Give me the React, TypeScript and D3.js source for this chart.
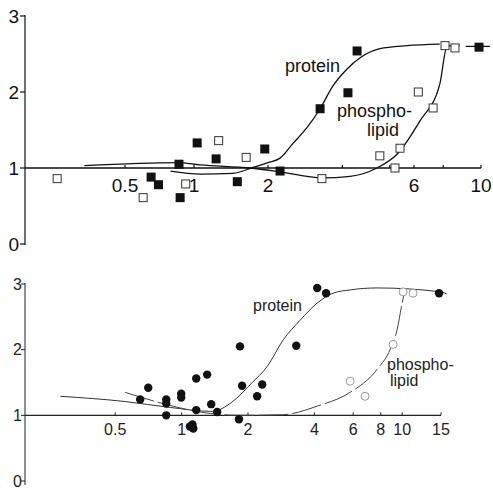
import React from 'react';
import * as d3 from 'd3';

// ---------- data ----------
const yTicks = [0, 1, 2, 3];
const topTickValues = [0.5, 1, 2, 6, 10];
const topTickLabels = ['0.5', '1', '2', '6', '10'];
const topMinorTicks = [3.5, 5, 7.5];
const bottomTickValues = [0.5, 1, 2, 4, 6, 8, 10, 15];
const bottomTickLabels = ['0.5', '1', '2', '4', '6', '8', '10', '15'];

// top panel: protein (filled squares)
const topProteinX = [0.86, 1.03, 1.23, 0.65, 0.70, 0.87, 1.50, 1.94, 2.19, 2.96, 3.65, 3.91, 9.85];
const topProteinY = [1.05, 1.33, 1.12, 0.88, 0.78, 0.61, 0.82, 1.25, 0.96, 1.78, 1.99, 2.54, 2.59];
// top panel: phospholipid (open squares)
const topLipidX = [0.25, 0.60, 0.92, 1.26, 1.63, 3.0, 4.64, 5.2, 5.4, 6.2, 6.94, 7.6, 8.2];
const topLipidY = [0.86, 0.61, 0.79, 1.36, 1.14, 0.86, 1.16, 1.0, 1.26, 2.0, 1.79, 2.61, 2.58];
// top panel fitted curves
const topProteinCurveX = [0.79, 1.06, 1.44, 1.75, 2.0, 2.19, 2.41, 2.68, 2.96, 3.26, 3.62, 4.0, 4.64, 5.69, 7.3];
const topProteinCurveY = [0.96, 0.92, 0.93, 1.01, 1.07, 1.13, 1.32, 1.53, 1.78, 2.08, 2.30, 2.45, 2.57, 2.61, 2.63];
const topProteinTailX = [8.9, 10.7];
const topProteinTailY = [2.6, 2.6];
const topLipidCurveX = [0.33, 0.85, 1.06, 1.69, 2.19, 3.0, 3.71, 4.54, 5.28, 6.28, 7.3, 7.72, 8.5];
const topLipidCurveY = [1.03, 1.07, 1.04, 1.0, 0.95, 0.87, 0.89, 1.0, 1.18, 1.62, 2.1, 2.6, 2.62];

// bottom panel: protein (filled circles)
const bottomProteinX = [0.649, 0.706, 0.852, 0.852, 0.852, 0.996, 0.996, 1.165, 1.306, 1.165, 1.362, 1.45, 1.84, 1.88, 1.82, 1.09, 1.13, 1.12, 2.32, 2.2, 3.31, 4.12, 4.52, 14.7];
const bottomProteinY = [1.24, 1.42, 1.24, 1.18, 1.0, 1.33, 1.27, 1.56, 1.62, 1.08, 1.17, 1.05, 2.05, 1.45, 0.94, 0.83, 0.80, 0.86, 1.47, 1.29, 2.06, 2.94, 2.86, 2.86];
// bottom panel: phospholipid (open circles, faint)
const bottomLipidX = [10.1, 11.2, 9.1, 5.81, 6.79];
const bottomLipidY = [2.88, 2.86, 2.08, 1.52, 1.29];
// bottom panel fitted curves
const bottomProteinCurveX = [0.282, 0.555, 0.888, 1.376, 1.69, 2.09, 2.44, 2.89, 3.45, 4.12, 4.86, 5.81, 7.7, 15, 15.9];
const bottomProteinCurveY = [1.29, 1.21, 1.12, 1.06, 1.2, 1.5, 1.74, 2.15, 2.45, 2.71, 2.86, 2.91, 2.94, 2.88, 2.85];
const bottomLipidCurveX = [0.555, 0.843, 1.214, 1.84, 2.89, 4.12, 5.81, 7.7, 8.81, 9.48, 10.0, 10.3];
const bottomLipidCurveY = [1.35, 1.17, 1.05, 1.0, 1.01, 1.14, 1.35, 1.70, 2.0, 2.3, 2.71, 2.91];

// ---------- scales ----------
const xTop = d3.scaleLog().domain([0.18, 0.5, 1, 2, 6, 10]).range([25, 125, 194, 268, 414, 481]);
const yTop = d3.scaleLinear().domain([0, 3]).range([244, 16]);
const xBot = d3.scaleLog().domain([0.195, 15]).range([25, 441]);
const yBot = d3.scaleLinear().domain([0, 3]).range([481, 284]);

const FONT = '"Liberation Sans", Arial, sans-serif';
const INK = '#111';

function pathOf(xs: number[], ys: number[], sx: any, sy: any) {
  const pts: [number, number][] = xs.map((x, i) => [sx(x), sy(ys[i])]);
  return d3.line().curve(d3.curveMonotoneX)(pts) || '';
}

export default function App() {
  const topAxisX0 = xTop(0.18);
  const topAxisX1 = xTop(10);
  const botAxisX0 = xBot(0.195);
  const botAxisX1 = xBot(15);

  return (
    <svg width={493} height={494} style={{ position: 'absolute', left: 0, top: 0, background: '#fff' }}
      fontFamily={FONT}>
      <rect x={0} y={0} width={493} height={494} fill="#fff" />

      {/* ===== TOP PANEL ===== */}
      <g>
        <line x1={topAxisX0} x2={topAxisX0} y1={yTop(3) - 1} y2={yTop(0) + 1} stroke={INK} strokeWidth={1.2} />
        {yTicks.map(t => (
          <g key={'yt' + t}>
            <line x1={topAxisX0 - 5} x2={topAxisX0} y1={yTop(t)} y2={yTop(t)} stroke={INK} strokeWidth={1.2} />
            <text x={19} y={yTop(t)} dy="0.36em" textAnchor="end" fontSize={19} fill={INK}>{t}</text>
          </g>
        ))}
        <line x1={topAxisX0} x2={topAxisX1} y1={yTop(1)} y2={yTop(1)} stroke={INK} strokeWidth={1.3} />
        {topTickValues.map((v, i) => (
          <g key={'xt' + v}>
            <line x1={xTop(v)} x2={xTop(v)} y1={yTop(1) - 3} y2={yTop(1)} stroke={INK} strokeWidth={1.2} />
            <text x={xTop(v)} y={192} textAnchor="middle" fontSize={19} fill={INK}>{topTickLabels[i]}</text>
          </g>
        ))}
        {topMinorTicks.map(v => (
          <line key={'xm' + v} x1={xTop(v)} x2={xTop(v)} y1={yTop(1) - 3} y2={yTop(1)} stroke={INK} strokeWidth={1.2} />
        ))}

        <path d={pathOf(topProteinCurveX, topProteinCurveY, xTop, yTop)} fill="none" stroke={INK} strokeWidth={1.3} />
        <path d={pathOf(topProteinTailX, topProteinTailY, xTop, yTop)} fill="none" stroke={INK} strokeWidth={1.3} />
        <path d={pathOf(topLipidCurveX, topLipidCurveY, xTop, yTop)} fill="none" stroke={INK} strokeWidth={1.3} />

        {topLipidX.map((x, i) => (
          <rect key={'tl' + i} x={xTop(x) - 4} y={yTop(topLipidY[i]) - 4} width={8} height={8}
            fill="#fff" stroke="#333" strokeWidth={1} />
        ))}
        {topProteinX.map((x, i) => (
          <rect key={'tp' + i} x={xTop(x) - 4.5} y={yTop(topProteinY[i]) - 4.5} width={9} height={9} fill={INK} />
        ))}

        <text x={285} y={72} fontSize={18} fill={INK}>protein</text>
        <text x={337} y={117} fontSize={18} fill={INK}>phospho-</text>
        <text x={367} y={136} fontSize={18} fill={INK}>lipid</text>
      </g>

      {/* ===== BOTTOM PANEL ===== */}
      <g>
        <line x1={botAxisX0} x2={botAxisX0} y1={yBot(3) - 1} y2={yBot(0) + 4} stroke="#222" strokeWidth={1} />
        {yTicks.map(t => (
          <g key={'byt' + t}>
            <line x1={botAxisX0 - 4} x2={botAxisX0} y1={yBot(t)} y2={yBot(t)} stroke="#222" strokeWidth={1} />
            <text x={22} y={yBot(t)} dy="0.36em" textAnchor="end" fontSize={16} fill="#222">{t}</text>
          </g>
        ))}
        <line x1={botAxisX0} x2={botAxisX1} y1={yBot(1)} y2={yBot(1)} stroke="#222" strokeWidth={1.1} />
        {bottomTickValues.map((v, i) => (
          <g key={'bxt' + v}>
            <line x1={xBot(v)} x2={xBot(v)} y1={yBot(1) - 3} y2={yBot(1)} stroke="#222" strokeWidth={1} />
            <text x={xBot(v)} y={435} textAnchor="middle" fontSize={16} fill="#222">{bottomTickLabels[i]}</text>
          </g>
        ))}

        <path d={pathOf(bottomProteinCurveX, bottomProteinCurveY, xBot, yBot)} fill="none" stroke="#333" strokeWidth={1} />
        <path d={pathOf(bottomLipidCurveX, bottomLipidCurveY, xBot, yBot)} fill="none" stroke="#444" strokeWidth={1} strokeDasharray="30 4" />

        {bottomLipidX.map((x, i) => (
          <circle key={'bl' + i} cx={xBot(x)} cy={yBot(bottomLipidY[i])} r={4} fill="#fff" stroke="#999" strokeWidth={1} />
        ))}
        {bottomProteinX.map((x, i) => (
          <circle key={'bp' + i} cx={xBot(x)} cy={yBot(bottomProteinY[i])} r={4.2} fill={INK} />
        ))}

        <text x={253} y={311} fontSize={16} fill="#222">protein</text>
        <text x={387} y={370} fontSize={16} fill="#222">phospho-</text>
        <text x={390} y={386} fontSize={16} fill="#222">lipid</text>
      </g>
    </svg>
  );
}
